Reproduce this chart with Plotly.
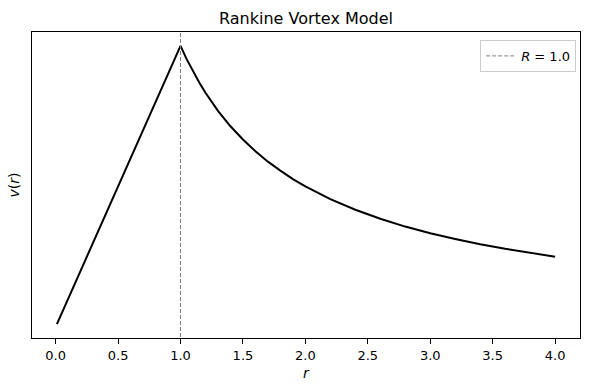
import plotly.graph_objects as go

# Data
r_vals = [0.01, 0.25, 0.5, 0.75, 1.0, 1.05, 1.1, 1.15, 1.2, 1.25, 1.3, 1.4, 1.5, 1.6, 1.7, 1.8, 1.9,
          2.0, 2.2, 2.4, 2.6, 2.8, 3.0, 3.2, 3.4, 3.6, 3.8, 4.0]
v_vals = [0.01, 0.25, 0.5, 0.75, 1.0, 0.952, 0.909, 0.870, 0.833, 0.800, 0.769, 0.714, 0.667, 0.625,
          0.588, 0.556, 0.526, 0.500, 0.455, 0.417, 0.385, 0.357, 0.333, 0.313, 0.294, 0.278,
          0.263, 0.250]
R_core = 1.0
x_ticks = [0.0, 0.5, 1.0, 1.5, 2.0, 2.5, 3.0, 3.5, 4.0]

fig = go.Figure()
fig.add_trace(go.Scatter(x=r_vals, y=v_vals, mode="lines", line=dict(color="black", width=2),
                         showlegend=False))
fig.add_trace(go.Scatter(x=[R_core, R_core], y=[-0.1, 1.2], mode="lines",
                         line=dict(color="grey", width=1, dash="4px,2px"),
                         name="<i>R</i> = 1.0", showlegend=True))

fig.update_layout(
    width=590, height=390,
    margin=dict(l=32, r=10, t=32, b=52, autoexpand=False),
    paper_bgcolor="white", plot_bgcolor="white",
    font=dict(family="DejaVu Sans", size=13, color="black"),
    title=dict(text="Rankine Vortex Model", x=0.5, xref="paper", xanchor="center",
               y=0.954, yanchor="middle", font=dict(size=16)),
    legend=dict(x=0.993, y=0.974, xanchor="right", yanchor="top", bgcolor="white",
                bordercolor="#cccccc", borderwidth=1, font=dict(size=13), itemwidth=30),
    xaxis=dict(range=[-0.1895, 4.1995], tickvals=x_ticks, ticktext=[f"{t:.1f}" for t in x_ticks],
               showgrid=False, zeroline=False, showline=True, linecolor="black", linewidth=1,
               mirror=True, ticks="outside", ticklen=5, tickcolor="black", automargin=False,
               title=dict(text="<i>r</i>", standoff=6, font=dict(size=14))),
    yaxis=dict(range=[-0.0395, 1.0495], showticklabels=False, ticks="", showgrid=False,
               zeroline=False, showline=True, linecolor="black", linewidth=1, mirror=True,
               automargin=False,
               title=dict(text="<i>v</i>(<i>r</i>)", standoff=8, font=dict(size=14))),
)
fig.write_html("out.html", config={"displayModeBar": False},
               post_script="document.body.style.margin='0';")
